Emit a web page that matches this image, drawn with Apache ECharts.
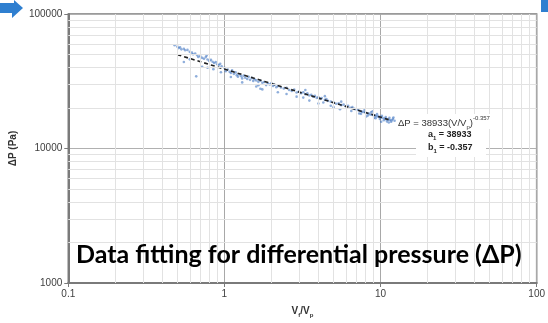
<!DOCTYPE html>
<html>
<head>
<meta charset="utf-8">
<script src="https://cdn.jsdelivr.net/npm/echarts@6/dist/echarts.min.js"></script>
<style>
html,body{margin:0;padding:0;background:#fff;}
#c{width:548px;height:323px;}
</style>
</head>
<body>
<div id="c"></div>
<script>
// ---- data ----
const xTickLabels = ['0.1', '1', '10', '100'];
const yTickLabels = ['1000', '10000', '100000'];
const xMinorLines = [0.2,0.3,0.4,0.5,0.6,0.7,0.8,0.9,2,3,4,5,6,7,8,9,20,30,40,50,60,70,80,90];
const yMinorLines = [2000,3000,4000,5000,6000,7000,8000,9000,20000,30000,40000,50000,60000,70000,80000,90000];

const measuredPoints = [
  [0.48,58500],[0.5,57200],[0.51,55800],[0.52,56500],[0.53,54600],[0.55,55200],[0.56,53800],[0.58,54100],
  [0.6,52300],[0.62,51600],[0.63,50200],[0.65,50800],[0.67,49400],[0.68,47900],[0.7,48600],[0.72,47200],
  [0.74,46500],[0.76,47800],[0.77,49200],[0.78,45900],[0.8,44800],[0.82,45600],[0.84,44100],[0.86,43200],
  [0.88,43900],[0.9,42300],[0.92,41800],[0.94,42600],[0.96,40900],
  [0.66,34400],[0.55,44000],[0.72,40500],[0.78,39800],[0.85,38900],[0.6,46000],[0.95,36900],
  [1.0,39800],[1.02,37600],[1.05,38700],[1.08,37200],[1.1,36400],[1.12,38100],[1.15,35900],[1.18,36800],
  [1.2,35100],[1.22,34200],[1.25,35600],[1.28,34500],[1.3,33200],[1.33,34800],[1.36,33600],[1.4,32900],
  [1.43,34100],[1.46,32400],[1.5,33500],[1.53,31800],[1.56,32700],[1.6,32100],[1.65,31300],[1.7,31900],
  [1.75,30800],[1.8,31200],[1.85,29600],[1.9,30500],[1.95,29900],[2.0,30600],[2.05,29200],[2.1,29800],
  [2.15,28500],[2.2,29100],[2.3,28400],[2.4,27900],[2.5,28300],[2.6,27200],[2.7,26800],[2.8,27400],
  [2.9,26100],[3.0,26500],
  [1.6,28900],[1.7,27800],[1.65,29500],[1.75,27500],[2.2,26200],[2.5,25400],[2.9,24300],[1.3,31000],[1.1,34000],
  [3.1,25800],[3.2,26200],[3.3,25300],[3.4,25700],[3.5,24800],[3.6,25100],[3.7,24300],[3.8,24600],
  [3.9,23800],[4.0,24100],[4.1,23400],[4.2,23700],[4.4,23000],[4.5,23300],[4.6,22600],[4.8,22300],
  [5.0,22100],[5.2,21500],[5.4,21700],[5.6,21000],[5.8,21200],[6.0,20600],[6.2,20800],[6.4,20100],
  [6.6,20300],[6.8,19700],[7.0,19500],
  [3.5,22700],[4.0,21600],[4.3,22000],[5.0,20300],[5.5,19600],[6.5,19000],[3.2,23900],[4.8,20800],
  [3.3,27200],[4.4,24500],[5.6,22300],
  [7.2,19300],[7.4,19000],[7.6,18800],[7.8,18700],[8.0,18500],[8.2,18300],[8.4,18200],[8.6,17900],
  [8.8,17800],[9.0,17700],[9.2,17600],[9.4,17400],[9.6,17300],[9.8,17200],[10.0,17100],[10.3,16900],
  [10.6,16700],[10.9,16500],[11.2,16400],[11.5,16300],[11.8,16200],[12.0,16600],[12.3,16100],
  [7.5,18100],[7.9,19300],[8.3,17600],[8.7,18600],[9.1,16900],[9.5,18000],[9.9,16600],[10.2,17500],
  [10.5,16200],[10.8,17100],[11.0,15900],[11.4,16900],[11.7,15800],[12.1,17000],[8.1,17300],[9.3,16800],
  [10.1,15800],[11.3,15600],[7.3,18200],[8.9,18900]
];

// power-law fit line endpoints (straight on log-log axes)
const fitLine = [[0.5, 49870], [11.5, 16274]];

// ---- chart ----
const chart = echarts.init(document.getElementById('c'), null, {renderer: 'canvas'});
const labelColor = '#404040';
const font = 'Liberation Sans, Arial, sans-serif';

chart.setOption({
  animation: false,
  backgroundColor: '#fff',
  grid: {left: 66, right: 6, top: 14, bottom: 32, show: true, borderColor: '#7a7a7a', borderWidth: 1.5, backgroundColor: 'transparent'},
  xAxis: {
    type: 'log', logBase: 10, min: 0.1, max: 100,
    axisLine: {lineStyle: {color: '#7a7a7a', width: 2}},
    axisTick: {show: true, length: 4, lineStyle: {color: '#7a7a7a'}},
    axisLabel: {color: labelColor, fontSize: 10, fontFamily: font, margin: 6,
      formatter: function (v) { const s = String(+v.toPrecision(3)); return xTickLabels.indexOf(s) >= 0 ? s : ''; }},
    splitLine: {show: true, lineStyle: {color: '#a8a8a8', width: 1}},
    name: '{n|V}{s|f}{n|/V}{s|p}', nameLocation: 'middle', nameGap: 19,
    nameTextStyle: {rich: {
      n: {fontSize: 10, fontWeight: 'bold', color: '#333', fontFamily: font, lineHeight: 14, verticalAlign: 'bottom'},
      s: {fontSize: 6, fontWeight: 'bold', color: '#333', fontFamily: font, lineHeight: 14, verticalAlign: 'bottom', padding: [0,0,-2,0]}
    }}
  },
  yAxis: {
    type: 'log', logBase: 10, min: 1000, max: 100000,
    axisLine: {show: true, lineStyle: {color: '#7a7a7a', width: 2}},
    axisTick: {show: true, length: 4, lineStyle: {color: '#7a7a7a'}},
    axisLabel: {color: labelColor, fontSize: 10, fontFamily: font, margin: 6,
      formatter: function (v) { const s = String(Math.round(v)); return yTickLabels.indexOf(s) >= 0 ? s : ''; }},
    splitLine: {show: true, lineStyle: {color: '#b0b0b0', width: 1}},
    name: 'ΔP (Pa)', nameLocation: 'middle', nameGap: 44, nameRotate: 90,
    nameTextStyle: {fontSize: 10, fontWeight: 'bold', color: '#333', fontFamily: font}
  },
  series: [
    {
      type: 'line', data: [], z: 1, silent: true,
      markLine: {
        silent: true, symbol: ['none', 'none'], label: {show: false}, animation: false,
        lineStyle: {color: '#e2e2e2', type: 'solid', width: 1},
        data: xMinorLines.map(v => ({xAxis: v})).concat(yMinorLines.map(v => ({yAxis: v})))
      }
    },
    {
      type: 'scatter', data: measuredPoints, z: 3,
      symbolSize: 2.6,
      itemStyle: {color: 'rgba(55,110,190,0.7)'}
    },
    {
      type: 'line', data: fitLine, z: 4, symbol: 'none',
      lineStyle: {color: '#222', width: 1.6, type: [4, 3]}
    }
  ],
  graphic: [
    // decorative slide remnants
    {type: 'polygon', shape: {points: [[0,3],[14,3],[14,0],[23,8],[12,18],[12,13],[0,13]]}, style: {fill: '#2f7fd0'}, z: 100},
    {type: 'rect', shape: {x: 541, y: 0, width: 7, height: 12}, style: {fill: '#2f7fd0'}, z: 100},
    // white boxes behind fit annotation
    {type: 'rect', shape: {x: 397, y: 114, width: 104, height: 15}, style: {fill: '#fff'}, z: 50},
    {type: 'rect', shape: {x: 416, y: 129, width: 70, height: 28}, style: {fill: '#fff'}, z: 50},
    {type: 'text', left: 398, top: 115, z: 51, style: {
      text: '{a|ΔP = 38933(V/V}{s|p}{a|)}{u|-0.357}',
      rich: {
        a: {fontSize: 9.5, fontFamily: font, fill: '#333', lineHeight: 13, verticalAlign: 'bottom'},
        s: {fontSize: 6, fontFamily: font, fill: '#333', lineHeight: 13, verticalAlign: 'bottom', padding: [0,0,-2,0]},
        u: {fontSize: 6, fontFamily: font, fill: '#333', lineHeight: 13, verticalAlign: 'top'}
      }
    }},
    {type: 'text', left: 428, top: 130, z: 51, style: {
      text: '{a|a}{s|1}{a| = 38933}',
      rich: {
        a: {fontSize: 9, fontWeight: 'bold', fontFamily: font, fill: '#222', lineHeight: 12, verticalAlign: 'bottom'},
        s: {fontSize: 6, fontWeight: 'bold', fontFamily: font, fill: '#222', lineHeight: 12, verticalAlign: 'bottom', padding: [0,0,-2,0]}
      }
    }},
    {type: 'text', left: 428, top: 143, z: 51, style: {
      text: '{a|b}{s|1}{a| = -0.357}',
      rich: {
        a: {fontSize: 9, fontWeight: 'bold', fontFamily: font, fill: '#222', lineHeight: 12, verticalAlign: 'bottom'},
        s: {fontSize: 6, fontWeight: 'bold', fontFamily: font, fill: '#222', lineHeight: 12, verticalAlign: 'bottom', padding: [0,0,-2,0]}
      }
    }},
    // overlay caption
    {type: 'text', left: 76, top: 242, z: 60, style: {
      text: 'Data fitting for differential pressure (ΔP)',
      font: 'bold 25px Lato, "Open Sans", sans-serif', fill: '#000'
    }}
  ]
});
</script>
</body>
</html>
